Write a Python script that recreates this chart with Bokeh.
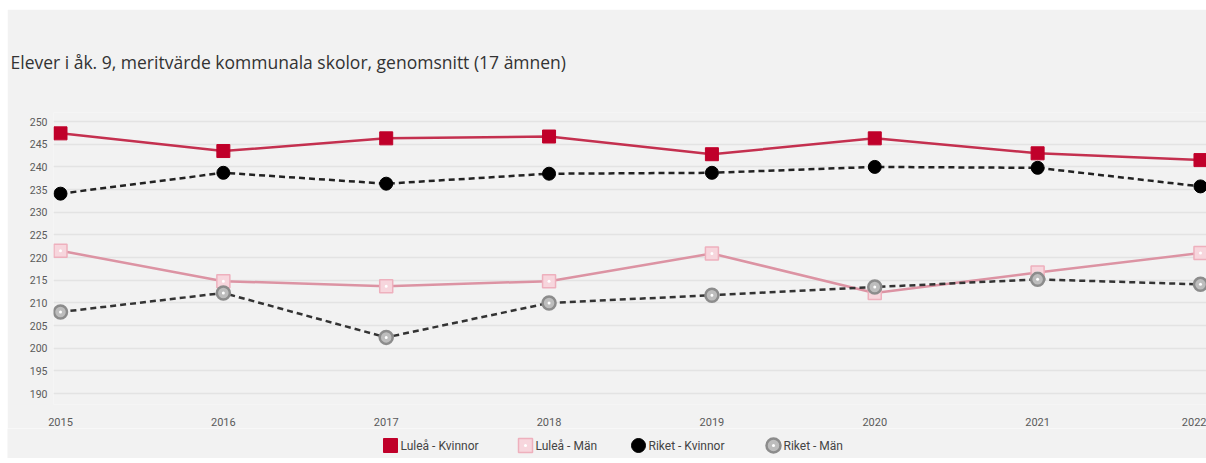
from bokeh.plotting import figure
from bokeh.models import FixedTicker, Range1d, Spacer
from bokeh.layouts import column, row
from bokeh.core.properties import value
from bokeh.embed import file_html
from bokeh.resources import INLINE

years = [2015, 2016, 2017, 2018, 2019, 2020, 2021, 2022]
lulea_kvinnor = [247.4, 243.5, 246.3, 246.7, 242.8, 246.3, 243.0, 241.5]
lulea_man = [221.5, 214.8, 213.7, 214.8, 220.9, 212.2, 216.7, 221.0]
riket_kvinnor = [234.1, 238.7, 236.3, 238.5, 238.7, 240.0, 239.8, 235.7]
riket_man = [208.0, 212.2, 202.4, 210.0, 211.7, 213.5, 215.2, 214.1]
series_names = ["Luleå - Kvinnor", "Luleå - Män", "Riket - Kvinnor", "Riket - Män"]
y_ticks = list(range(190, 251, 5))
title_text = "Elever i åk. 9, meritvärde kommunala skolor, genomsnitt (17 ämnen)"

BG = "#f2f2f2"
p = figure(width=1199, height=419, output_backend="svg", toolbar_location=None,
           x_range=Range1d(2014.957, 2022.037), y_range=Range1d(187.6, 252.0),
           background_fill_color=BG, border_fill_color=BG,
           min_border_left=46, min_border_right=0, min_border_top=103, min_border_bottom=20)
p.outline_line_color = None

p.title.text = title_text
p.title.text_font = "Open Sans"
p.title.text_font_size = "17.5px"
p.title.text_font_style = "normal"
p.title.text_color = "#333333"
p.title.align = "left"
p.title.offset = -43
p.title.standoff = 77

# axes
p.xaxis.ticker = FixedTicker(ticks=years)
p.yaxis.ticker = FixedTicker(ticks=y_ticks)
for ax in (p.xaxis[0], p.yaxis[0]):
    ax.axis_line_color = None
    ax.major_tick_line_color = None
    ax.minor_tick_line_color = None
    ax.major_label_text_font = "Roboto"
    ax.major_label_text_color = "#5a5a5a"
p.xaxis.major_label_text_font_size = "11px"
p.yaxis.major_label_text_font_size = "10.5px"
p.xaxis.major_label_standoff = 7
p.yaxis.major_label_standoff = 0
p.xgrid.grid_line_color = None
p.ygrid.grid_line_color = "#e3e3e3"
p.ygrid.grid_line_width = 1.5

# marker styles per series
styles = [
    dict(marker="square", fill_color="#c0002a", line_color="#c0002a", line_width=1),
    dict(marker="square", fill_color="#f7d6dd", line_color="#eeb0bd", line_width=1.5),
    dict(marker="circle", fill_color="black", line_color="black", line_width=1),
    dict(marker="circle", fill_color="#bdbdbd", line_color="#8c8c8c", line_width=2.5),
]
dots = [False, True, False, True]

p.line(years, lulea_kvinnor, line_color="#c4304f", line_width=2.5)
p.line(years, lulea_man, line_color="#dc93a3", line_width=2.5)
p.line(years, riket_kvinnor, line_color="#222222", line_width=2.5, line_dash="6 4")
p.line(years, riket_man, line_color="#333333", line_width=2.5, line_dash="6 4")
for vals, st, d in zip([lulea_kvinnor, lulea_man, riket_kvinnor, riket_man], styles, dots):
    p.scatter(years, vals, size=13, **st)
    if d:
        p.scatter(years, vals, marker="circle", size=3, fill_color="white", line_color=None)

# legend strip (separate small figure so nothing is clipped)
lg = figure(width=1199, height=30, output_backend="svg", toolbar_location=None,
            x_range=Range1d(0, 1199), y_range=Range1d(0, 30),
            background_fill_color=BG, border_fill_color=BG,
            min_border=0)
lg.axis.visible = False
lg.grid.visible = False
lg.outline_line_color = None
leg_x = [383, 518, 631, 766]
leg_y = 13
for x, st, d in zip(leg_x, styles, dots):
    lg.scatter([x], [leg_y], size=14, **st)
    if d:
        lg.scatter([x], [leg_y], marker="circle", size=3, fill_color="white", line_color=None)
lg.text(x=[x + 10 for x in leg_x], y=[leg_y] * 4, text=series_names,
        text_font=value("Roboto"), text_font_size="12px", text_color="#444444",
        text_baseline="middle", text_align="left")

layout = column(Spacer(height=9, width=1206),
                row(Spacer(width=7, height=419), p),
                row(Spacer(width=7, height=30), lg))
open("out.html", "w").write(file_html(layout, INLINE))
